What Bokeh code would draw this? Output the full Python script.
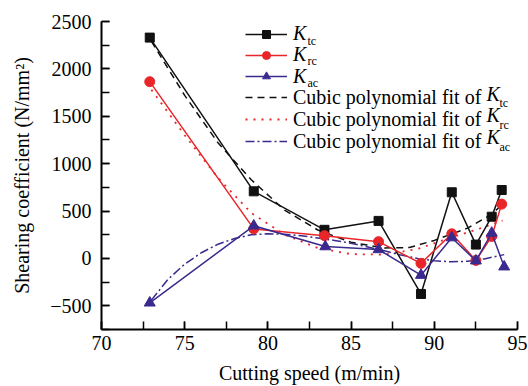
from bokeh.plotting import figure
from bokeh.models import (SingleIntervalTicker, CustomJSTickFormatter, Legend, LegendItem, Label)
from bokeh.embed import file_html
from bokeh.resources import INLINE

# ---------------- data ----------------
speed = [72.9, 79.15, 83.4, 86.65, 89.2, 91.05, 92.5, 93.45, 94.05]
speed_ac = [72.9, 79.15, 83.45, 86.65, 89.2, 91.05, 92.5, 93.45, 94.2]
k_tc = [2330, 708, 302, 396, -375, 698, 146, 440, 722]
k_rc = [1865, 312, 240, 177, -52, 260, -21, 232, 573]
k_ac = [-469, 344, 125, 94, -177, 219, -25, 268, -88]

fit_tc_x = [73, 75, 77, 79, 81, 83, 85, 87, 88.5, 90, 92, 93.4, 94.1]
fit_tc_y = [2290, 1720, 1220, 830, 510, 300, 170, 110, 115, 190, 320, 460, 570]
fit_rc_x = [73, 75, 77, 79, 81, 83, 85, 87, 89, 91, 93, 94.1]
fit_rc_y = [1780, 1300, 850, 480, 250, 110, 45, 40, 100, 220, 330, 400]
fit_ac_x = [73, 74, 75, 76, 77, 78, 79, 80, 81, 82, 83, 84, 85, 86, 87, 88, 89, 90, 91, 92, 93, 94.2]
fit_ac_y = [-440, -220, -60, 60, 150, 210, 250, 260, 255, 240, 215, 190, 160, 120, 80, 35, 0, -25, -35, -30, -5, 40]

x_label = "Cutting speed (m/min)"
y_label = "Shearing coefficient (N/mm²)"
fit_text = "Cubic polynomial fit of"
subs = ["tc", "rc", "ac"]

# ---------------- styles / layout ----------------
BLACK = "#111111"
RED = "#e8262a"
PURPLE = "#3b2a8e"
FONT = "Liberation Serif"

W, H = 528, 386
FL, FR, FT, FB = 101, 517, 21, 333  # frame edges in px
X0, X1, Y0, Y1 = 70, 95, -750, 2500
ITEM_OFF = 18.6  # px between a legend's bottom edge and its row centre (calibrated)

def dx(sx):
    return X0 + (sx - FL) * (X1 - X0) / (FR - FL)

def dy(sy):
    return Y1 - (sy - FT) * (Y1 - Y0) / (FB - FT)

p = figure(width=W, height=H, x_range=(X0, X1), y_range=(Y0, Y1),
           output_backend="svg", toolbar_location=None,
           min_border_left=FL, min_border_right=W - FR,
           min_border_top=FT, min_border_bottom=H - FB)
p.outline_line_color = None
p.xgrid.visible = False
p.ygrid.visible = False
p.background_fill_color = "white"

for ax in (p.xaxis[0], p.yaxis[0]):
    ax.axis_line_width = 2
    ax.axis_line_color = "black"
    ax.major_tick_in = 8
    ax.major_tick_out = 0
    ax.minor_tick_in = 8
    ax.minor_tick_out = 0
    ax.major_tick_line_width = 1.5
    ax.minor_tick_line_width = 1.5
    ax.major_label_text_font = FONT
    ax.major_label_text_font_size = "20px"
    ax.major_label_text_color = "black"
    ax.axis_label_text_font = FONT
    ax.axis_label_text_font_size = "20px"
    ax.axis_label_text_font_style = "normal"
    ax.axis_label_text_color = "black"

p.xaxis[0].ticker = SingleIntervalTicker(interval=5, num_minor_ticks=2)
p.yaxis[0].ticker = SingleIntervalTicker(interval=500, num_minor_ticks=2)
p.yaxis[0].formatter = CustomJSTickFormatter(
    code="return tick < 0 ? '\\u2212' + Math.abs(tick) : String(tick);")
p.xaxis[0].axis_label = x_label
p.yaxis[0].axis_label = y_label
p.xaxis[0].major_label_standoff = 6
p.xaxis[0].axis_label_standoff = 9
p.yaxis[0].major_label_standoff = 10
p.yaxis[0].axis_label_standoff = 14

# fits
r_ftc = p.line(fit_tc_x, fit_tc_y, line_color=BLACK, line_width=1.5, line_dash="7 5")
r_frc = p.line(fit_rc_x, fit_rc_y, line_color=RED, line_width=1.8, line_dash="2 6")
r_fac = p.line(fit_ac_x, fit_ac_y, line_color=PURPLE, line_width=1.5, line_dash="9 3 2 3")

# data
l_tc = p.line(speed, k_tc, line_color=BLACK, line_width=1.5)
m_tc = p.scatter(speed, k_tc, marker="square", size=9, fill_color=BLACK, line_color=BLACK)
l_rc = p.line(speed, k_rc, line_color=RED, line_width=1.5)
m_rc = p.scatter(speed, k_rc, marker="circle", size=10, fill_color=RED, line_color=RED)
l_ac = p.line(speed_ac, k_ac, line_color=PURPLE, line_width=1.5)
m_ac = p.scatter(speed_ac, k_ac, marker="triangle", size=11, fill_color=PURPLE, line_color=PURPLE)

common = dict(glyph_width=42, glyph_height=20, label_height=20, spacing=0,
              label_standoff=6, padding=0, margin=0, border_line_color=None,
              background_fill_alpha=0, label_text_font=FONT,
              label_text_font_size="20px", label_text_color="black")

# one legend per row so that each row sits where the reference has it
rows = [30.5, 51.5, 73, 94, 116, 138]  # row centres, px from the top
entries = [("K", [l_tc, m_tc], "italic"), ("K", [l_rc, m_rc], "italic"),
           ("K", [l_ac, m_ac], "italic"), (fit_text, [r_ftc], "normal"),
           (fit_text, [r_frc], "normal"), (fit_text, [r_fac], "normal")]
for (lab, rends, style), r in zip(entries, rows):
    leg = Legend(items=[LegendItem(label=lab, renderers=rends)],
                 location=(245 - FL, FB - r - ITEM_OFF),
                 label_text_font_style=style, **common)
    p.add_layout(leg)

# subscripts and italic K for the legend texts
for i, s in enumerate(subs):
    r = rows[i]
    p.add_layout(Label(x=dx(307), y=dy(r + 10), text=s, text_font=FONT,
                       text_font_size="12px", text_baseline="middle",
                       text_align="left", text_color="black"))
    r = rows[i + 3]
    p.add_layout(Label(x=dx(486), y=dy(r), text="K", text_font=FONT,
                       text_font_size="20px", text_font_style="italic",
                       text_baseline="middle", text_align="left", text_color="black"))
    p.add_layout(Label(x=dx(499), y=dy(r + 10), text=s, text_font=FONT,
                       text_font_size="12px", text_baseline="middle",
                       text_align="left", text_color="black"))

open("out.html", "w").write(file_html(p, INLINE))
